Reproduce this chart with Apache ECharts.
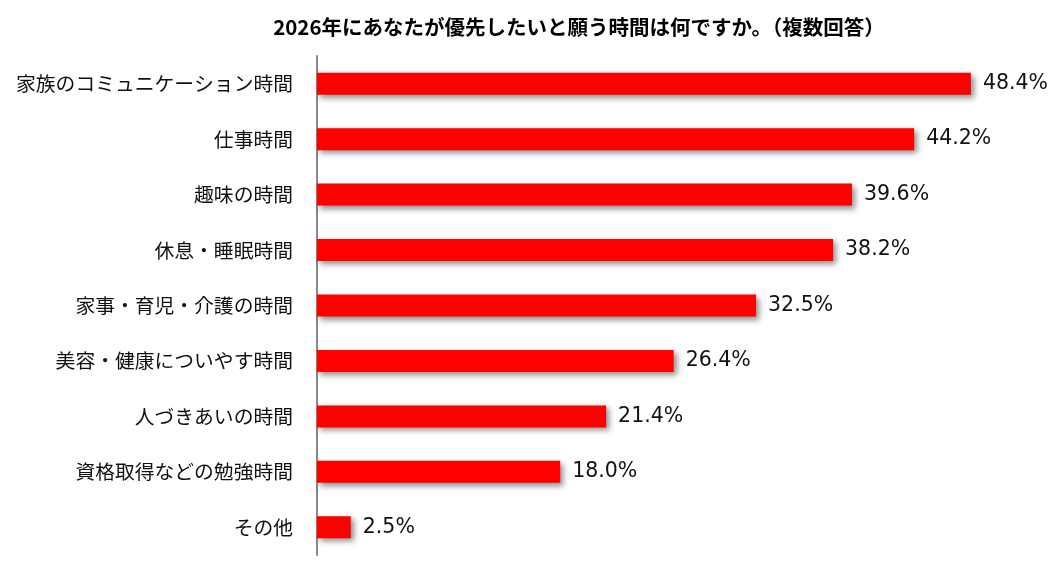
<!DOCTYPE html>
<html><head><meta charset="utf-8">
<script src="https://cdn.jsdelivr.net/npm/echarts@6/dist/echarts.min.js"></script>
<style>html,body{margin:0;padding:0;background:#fff}#c{width:1057px;height:582px}</style>
</head><body><div id="c"></div>
<script>
var categories = ['家族のコミュニケーション時間','仕事時間','趣味の時間','休息・睡眠時間','家事・育児・介護の時間','美容・健康についやす時間','人づきあいの時間','資格取得などの勉強時間','その他'];
var values = [48.4, 44.2, 39.6, 38.2, 32.5, 26.4, 21.4, 18.0, 2.5];
var titleText = '2026年にあなたが優先したいと願う時間は何ですか。（複数回答）';

var chart = echarts.init(document.getElementById('c'), null, {renderer:'canvas'});
chart.setOption({
  animation: false,
  backgroundColor: '#fff',
  title: {
    text: titleText, left: 574, top: 12, textAlign: 'center',
    textStyle: {fontFamily: 'Noto Sans CJK JP', fontWeight: 'bold', fontSize: 20.5, color: '#000'}
  },
  grid: {left: 317, right: 64.5, top: 56, bottom: 27},
  xAxis: {type: 'value', min: 0, max: 50, show: false},
  yAxis: {
    type: 'category', data: categories, inverse: true,
    axisLine: {show: true, lineStyle: {color: '#898989', width: 2}},
    axisTick: {show: false},
    axisLabel: {margin: 24, fontFamily: 'Noto Sans CJK JP', fontSize: 19.8, color: '#111'}
  },
  series: [{
    type: 'bar', data: values, barWidth: 22,
    itemStyle: {color: '#ff0000', shadowColor: 'rgba(0,0,0,0.45)', shadowBlur: 6, shadowOffsetX: 3, shadowOffsetY: 3},
    label: {show: true, position: 'right', distance: 12, formatter: function(p){return p.value.toFixed(1)+'%';},
      fontFamily: 'DejaVu Sans', fontSize: 20.5, color: '#111'}
  }]
});
</script></body></html>
